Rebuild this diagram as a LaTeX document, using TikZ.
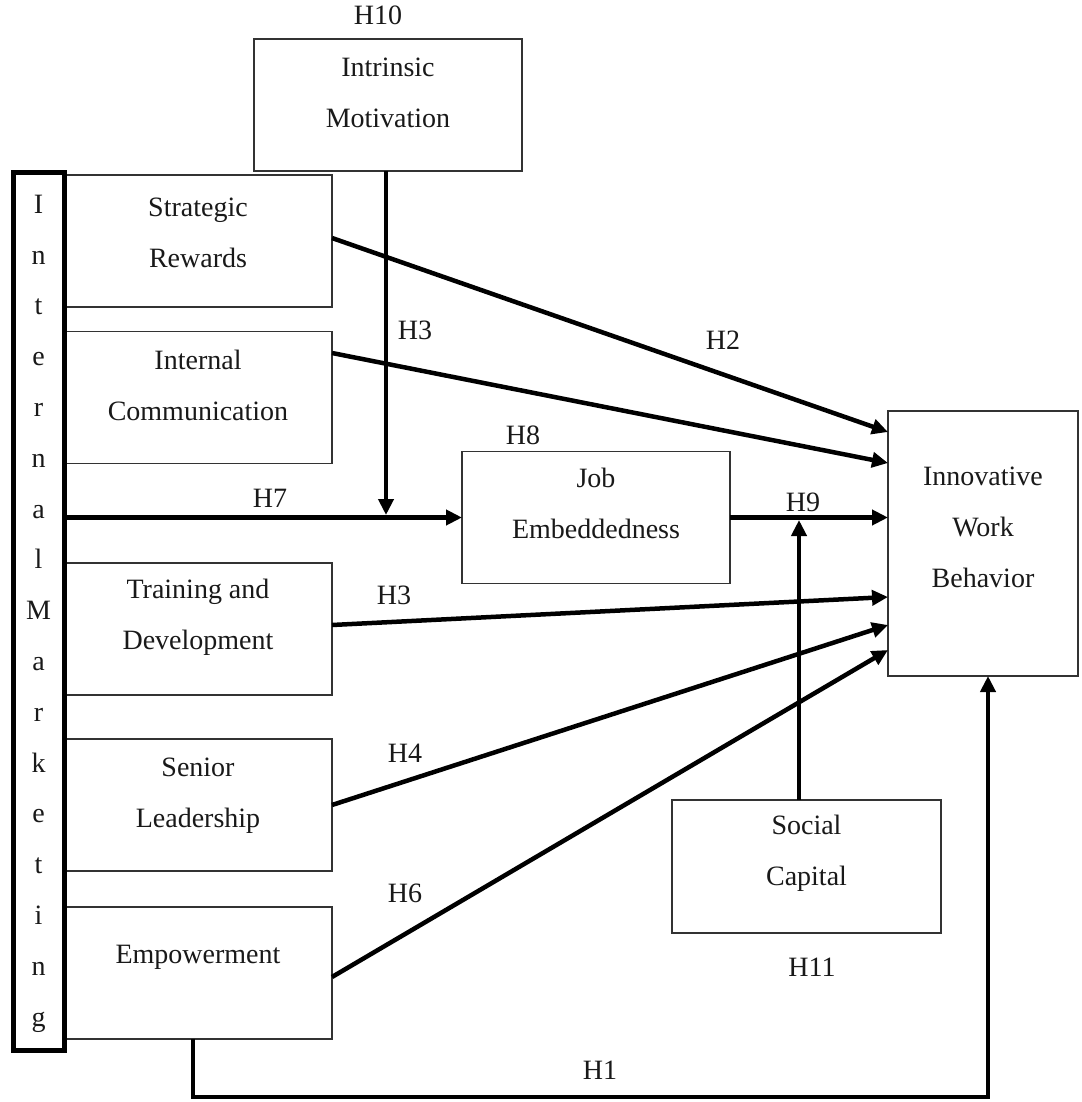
\documentclass[tikz,border=0pt]{standalone}
\usepackage{fontspec}
\setmainfont{Liberation Serif}
\usetikzlibrary{arrows.meta,calc}
\begin{document}
\begin{tikzpicture}[x=1pt,y=-1pt,
  box/.style={draw=black!80, line width=1.5pt, minimum width=268pt, minimum height=132pt, inner sep=0pt, outer sep=0pt},
  txt/.style={font=\fontsize{28}{51}\selectfont, align=center, inner sep=0pt, text=black!90},
  hlab/.style={font=\fontsize{28}{34}\selectfont, inner sep=0pt, text=black!90},
  conn/.style={line width=4.5pt, -{Triangle[length=16pt,width=15pt]}}]
\useasboundingbox[fill=white] (0,0) rectangle (1081,1102);
% boxes
\node[box] (im) at (388,105) {};
\node[box] (sr) at (198,241) {};
\node[box] (ic) at (198,397.5) {};
\node[box] (td) at (198,629) {};
\node[box] (sl) at (198,805) {};
\node[box] (emp) at (198,973) {};
\node[box] (job) at (596,517.5) {};
\node[box, minimum width=190pt, minimum height=265pt] (iwb) at (983,543.5) {};
\node[box, minimum width=269pt, minimum height=133pt] (sc) at (806.5,866.5) {};
\node[draw, line width=5pt, minimum width=51pt, minimum height=877pt, inner sep=0pt, outer sep=0pt] (bar) at (38.5,611.5) {};
% box texts
\node[txt] (imt) at (388,92.5) {Intrinsic\\Motivation};
\node[txt] (srt) at (198,233) {Strategic\\Rewards};
\node[txt] (ict) at (198,385) {Internal\\Communication};
\node[txt] (jobt) at (596,503) {Job\\Embeddedness};
\node[txt] (tdt) at (198,617) {Training and\\Development};
\node[txt] (slt) at (198,796) {Senior\\Leadership};
\node[txt] (empt) at (198,957) {Empowerment};
\node[txt] (iwbt) at (983,527) {Innovative\\Work\\Behavior};
\node[txt] (sct) at (806.5,853) {Social\\Capital};
\node[txt, font=\fontsize{28}{50.8}\selectfont] (bart) at (38.5,613.5) {I\\n\\t\\e\\r\\n\\a\\l\\M\\a\\r\\k\\e\\t\\i\\n\\g};
% hypothesis labels
\node[hlab] (h10) at (378,15) {H10};
\node[hlab] (h3a) at (415,330) {H3};
\node[hlab] (h2) at (723,340) {H2};
\node[hlab] (h8) at (523,435) {H8};
\node[hlab] (h7) at (270,498) {H7};
\node[hlab] (h9) at (803,502) {H9};
\node[hlab] (h3b) at (394,595) {H3};
\node[hlab] (h4) at (405,753) {H4};
\node[hlab] (h6) at (405,893) {H6};
\node[hlab] (h11) at (812,967) {H11};
\node[hlab] (h1) at (600,1070) {H1};
% connectors
\draw[conn] ($(sr.east)+(0,-3)$) -- ($(iwb.west)+(0,-111.5)$);
\draw[conn] ($(ic.east)+(0,-44.5)$) -- ($(iwb.west)+(0,-80.5)$);
\draw[conn] ($(td.east)+(0,-4)$) -- ($(iwb.west)+(0,53.5)$);
\draw[conn] (sl.east) -- ($(iwb.west)+(0,81.5)$);
\draw[conn] ($(emp.east)+(0,4)$) -- ($(iwb.west)+(0,106.5)$);
\draw[conn] (job.east) -- (job.east -| iwb.west);
\draw[conn] (bar.east |- job.west) -- (job.west);
\coordinate (imx) at ($(im.south)+(-2,0)$);
\draw[conn, shorten >=2.5pt] (imx) -- (imx |- job.west);
\coordinate (scx) at ($(sc.north)+(-7.5,0)$);
\draw[conn, shorten >=2.5pt] (scx) -- (scx |- job.east);
\coordinate (h1a) at ($(emp.south)+(-5,0)$);
\coordinate (h1b) at ($(iwb.south)+(5,0)$);
\draw[conn] (h1a) -- ++(0,58) -| (h1b);
\end{tikzpicture}
\end{document}
